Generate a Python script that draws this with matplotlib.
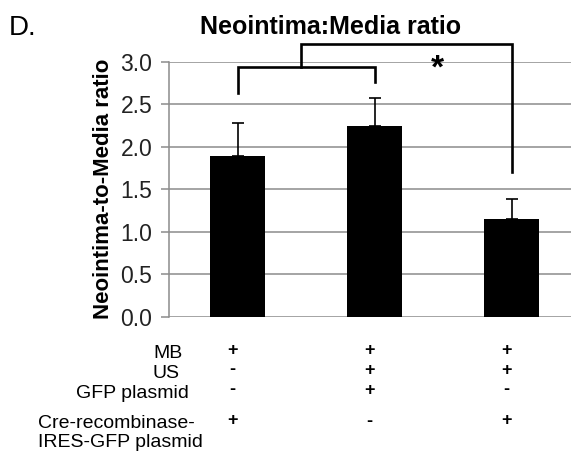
import matplotlib
matplotlib.use("Agg")
import matplotlib.pyplot as plt
import matplotlib.transforms as mtransforms

plt.rcParams['font.family'] = ['Liberation Sans', 'DejaVu Sans']

# ---- data ----
groups = ["Group 1", "Group 2", "Group 3"]
ratio_means = [1.89, 2.24, 1.15]
ratio_err = [0.39, 0.33, 0.23]
yticks = [0.0, 0.5, 1.0, 1.5, 2.0, 2.5, 3.0]
row_labels = ["MB", "US", "GFP plasmid"]
row_signs = [["+", "+", "+"], ["-", "+", "+"], ["-", "+", "-"]]
cre_label = "Cre-recombinase-\nIRES-GFP plasmid"
cre_signs = ["+", "-", "+"]
# significance brackets (data units)
inner_bracket = {"x": [0, 1], "top": 2.94, "legs": [2.63, 2.76]}
outer_bracket = {"x": [0.46, 2], "top": 3.21, "legs": [2.94, 1.70]}
star_pos = (1.46, 2.92)

W, H = 571, 463
fig = plt.figure(figsize=(W / 100, H / 100), dpi=100)
fig.patch.set_facecolor("white")

ax_left, ax_right = 169, 580
ax_top, ax_bottom = 62, 316.5
ax = fig.add_axes([ax_left / W, (H - ax_bottom) / H,
                   (ax_right - ax_left) / W, (ax_bottom - ax_top) / H])

x = list(range(len(groups)))
ax.bar(x, ratio_means, width=0.40, color="black", zorder=3)
ax.errorbar(x, ratio_means, yerr=[[0] * 3, ratio_err], fmt="none",
            ecolor="black", elinewidth=1.2, capsize=4, capthick=1.2, zorder=4)

ax.set_xlim(-0.5, 2.5)
ax.set_ylim(0, 3.0)
ax.set_yticks(yticks)
ax.set_yticklabels([f"{v:.1f}" for v in yticks], fontsize=16.5, color="#222222")
ax.set_xticks([])
ax.yaxis.grid(True, color="#8c8c8c", linewidth=1.1, zorder=0)
ax.set_axisbelow(True)
for s in ["top", "right", "bottom"]:
    ax.spines[s].set_visible(False)
ax.spines["left"].set_color("#8c8c8c")
ax.spines["left"].set_linewidth(1.1)
ax.tick_params(axis="y", length=6, color="#8c8c8c", width=1.1, pad=6)

ax.set_ylabel("Neointima-to-Media ratio", fontsize=16, fontweight="bold",
              labelpad=5)

# brackets
for br in (inner_bracket, outer_bracket):
    x0, x1 = br["x"]
    ax.plot([x0, x0, x1, x1], [br["legs"][0], br["top"], br["top"], br["legs"][1]],
            color="black", linewidth=1.9, clip_on=False, zorder=5,
            solid_joinstyle="miter")
ax.text(star_pos[0], star_pos[1], "*", fontsize=24, fontweight="bold",
        ha="center", va="center", zorder=6)

# title and panel label
fig.text(331 / W, 1 - 27 / H, "Neointima:Media ratio", fontsize=18,
         fontweight="bold", ha="center", va="center")
fig.text(9 / W, 1 - 28 / H, "D.", fontsize=20, ha="left", va="center")

# condition table
trans = mtransforms.blended_transform_factory(ax.transData, fig.transFigure)
row_y = [353, 373, 393]
row_right = [183, 180, 189]
for lbl, signs, yy, xr in zip(row_labels, row_signs, row_y, row_right):
    fig.text(xr / W, 1 - yy / H, lbl, fontsize=14, ha="right", va="center")
    for xi, sg in zip(x, signs):
        ax.text(xi - 0.04, 1 - (yy - 3) / H, sg, transform=trans, fontsize=13,
                fontweight="bold", ha="center", va="center")
fig.text(38 / W, 1 - 433 / H, cre_label, fontsize=14, ha="left", va="center",
         linespacing=1.15)
for xi, sg in zip(x, cre_signs):
    ax.text(xi - 0.04, 1 - 421 / H, sg, transform=trans, fontsize=13,
            fontweight="bold", ha="center", va="center")

fig.savefig("out.png", dpi=100, facecolor="white")
